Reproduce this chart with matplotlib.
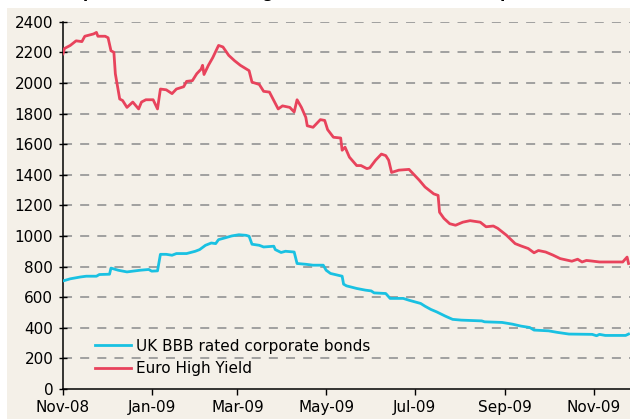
import matplotlib
matplotlib.use("Agg")
import matplotlib.pyplot as plt
import matplotlib.dates as mdates
from matplotlib.patches import Rectangle
import pandas as pd

# ---------------- data ----------------
hy_dates = ["2008-11-01", "2008-11-02", "2008-11-06", "2008-11-10", "2008-11-14", "2008-11-16",
            "2008-11-22", "2008-11-24", "2008-11-25", "2008-11-30", "2008-12-02", "2008-12-04",
            "2008-12-06", "2008-12-07", "2008-12-10", "2008-12-12", "2008-12-15", "2008-12-19",
            "2008-12-23", "2008-12-25", "2008-12-28", "2009-01-02", "2009-01-05", "2009-01-07",
            "2009-01-11", "2009-01-15", "2009-01-18", "2009-01-23", "2009-01-25", "2009-01-29",
            "2009-02-01", "2009-02-04", "2009-02-05", "2009-02-06", "2009-02-09", "2009-02-12",
            "2009-02-16", "2009-02-19", "2009-02-23", "2009-02-27", "2009-03-03", "2009-03-09",
            "2009-03-11", "2009-03-16", "2009-03-19", "2009-03-23", "2009-03-29", "2009-04-01",
            "2009-04-06", "2009-04-09", "2009-04-11", "2009-04-14", "2009-04-17", "2009-04-18",
            "2009-04-22", "2009-04-27", "2009-04-30", "2009-05-02", "2009-05-06", "2009-05-11",
            "2009-05-12", "2009-05-14", "2009-05-17", "2009-05-22", "2009-05-25", "2009-05-29",
            "2009-05-31", "2009-06-04", "2009-06-08", "2009-06-11", "2009-06-13", "2009-06-15",
            "2009-06-20", "2009-06-27", "2009-06-30", "2009-07-04", "2009-07-08", "2009-07-14",
            "2009-07-17", "2009-07-18", "2009-07-21", "2009-07-25", "2009-07-29", "2009-08-03",
            "2009-08-08", "2009-08-15", "2009-08-19", "2009-08-24", "2009-08-27", "2009-09-02",
            "2009-09-08", "2009-09-12", "2009-09-17", "2009-09-21", "2009-09-24", "2009-09-29",
            "2009-10-04", "2009-10-09", "2009-10-17", "2009-10-21", "2009-10-24", "2009-10-27",
            "2009-10-30", "2009-11-05", "2009-11-21", "2009-11-24", "2009-11-25"]
hy_values = [2190, 2225, 2245, 2275, 2270, 2305,
             2320, 2330, 2305, 2305, 2295, 2210,
             2200, 2060, 1895, 1885, 1840, 1875,
             1830, 1875, 1890, 1890, 1830, 1960,
             1955, 1930, 1960, 1975, 2010, 2015,
             2060, 2090, 2115, 2055, 2115, 2165,
             2245, 2235, 2180, 2145, 2115, 2080,
             2005, 1990, 1945, 1940, 1830, 1850,
             1840, 1810, 1890, 1840, 1775, 1720,
             1710, 1760, 1755, 1695, 1645, 1640,
             1560, 1580, 1515, 1460, 1460, 1440,
             1445, 1495, 1535, 1525, 1495, 1415,
             1430, 1435, 1405, 1365, 1320, 1275,
             1265, 1155, 1115, 1080, 1070, 1090,
             1100, 1090, 1060, 1065, 1050, 1005,
             950, 935, 918, 890, 905, 895,
             875, 852, 835, 848, 830, 840,
             837, 830, 830, 862, 820]

bbb_dates = ["2008-11-01", "2008-11-06", "2008-11-13", "2008-11-17", "2008-11-24", "2008-11-26",
             "2008-12-03", "2008-12-04", "2008-12-09", "2008-12-15", "2008-12-19", "2008-12-24",
             "2008-12-30", "2009-01-01", "2009-01-05", "2009-01-07", "2009-01-11", "2009-01-15",
             "2009-01-18", "2009-01-25", "2009-01-31", "2009-02-03", "2009-02-07", "2009-02-11",
             "2009-02-14", "2009-02-16", "2009-02-21", "2009-02-25", "2009-03-02", "2009-03-07",
             "2009-03-09", "2009-03-11", "2009-03-16", "2009-03-19", "2009-03-26", "2009-03-27",
             "2009-03-31", "2009-04-03", "2009-04-09", "2009-04-11", "2009-04-17", "2009-04-22",
             "2009-04-29", "2009-05-01", "2009-05-04", "2009-05-12", "2009-05-13", "2009-05-15",
             "2009-05-22", "2009-05-28", "2009-06-01", "2009-06-03", "2009-06-11", "2009-06-14",
             "2009-06-23", "2009-06-27", "2009-07-05", "2009-07-08", "2009-07-12", "2009-07-16",
             "2009-07-22", "2009-07-27", "2009-08-02", "2009-08-16", "2009-08-18", "2009-08-30",
             "2009-09-06", "2009-09-12", "2009-09-18", "2009-09-21", "2009-10-01", "2009-10-07",
             "2009-10-15", "2009-10-31", "2009-11-03", "2009-11-05", "2009-11-09", "2009-11-23",
             "2009-11-25"]
bbb_values = [706, 720, 732, 737, 737, 748,
              750, 790, 776, 765, 770, 776,
              781, 770, 772, 880, 880, 874,
              885, 885, 900, 911, 939, 954,
              950, 976, 989, 1000, 1008, 1004,
              998, 946, 939, 928, 933, 911,
              892, 900, 895, 820, 815, 809,
              809, 776, 755, 737, 685, 674,
              657, 646, 641, 628, 624, 592,
              592, 580, 559, 541, 520, 504,
              476, 455, 450, 445, 439, 435,
              424, 411, 402, 385, 380, 370,
              359, 357, 348, 357, 350, 350,
              359]

series_labels = ["UK BBB rated corporate bonds", "Euro High Yield"]
tick_dates = ["2008-11-01", "2009-01-01", "2009-03-01", "2009-05-01",
              "2009-07-01", "2009-09-01", "2009-11-01"]
y_ticks = list(range(0, 2401, 200))
title_text = "Spreads on the sterling and euro credit market (bps)"

# ---------------- style ----------------
BG = "#F4F0E8"
RED = "#E8435C"
CYAN = "#19C1E2"
GRID = "#9A9A9A"

fig = plt.figure(figsize=(6.30, 4.19), dpi=100, facecolor="white")
fig.patches.append(Rectangle((7 / 630, 0), 1 - 7 / 630, (419 - 8) / 419,
                             transform=fig.transFigure, facecolor=BG,
                             edgecolor="none", zorder=-10))
fig.text(72 / 630, 1.004, title_text, fontsize=11, fontweight="bold",
         va="baseline", ha="left", color="black")

ax = fig.add_axes([63 / 630, 30 / 419, 1 - 63 / 630, (389 - 21.7) / 419])
ax.set_facecolor("none")
ax.set_zorder(1)

hy_x = pd.to_datetime(hy_dates)
bbb_x = pd.to_datetime(bbb_dates)

ax.plot(bbb_x, bbb_values, color=CYAN, lw=2.0, label=series_labels[0],
        solid_joinstyle="round", zorder=3)
ax.plot(hy_x, hy_values, color=RED, lw=2.0, label=series_labels[1],
        solid_joinstyle="round", zorder=3)

ax.set_ylim(0, 2400)
ax.set_xlim(pd.Timestamp("2008-11-01"), pd.Timestamp("2009-11-26"))
ax.set_yticks(y_ticks)
ax.set_xticks(pd.to_datetime(tick_dates))
ax.xaxis.set_major_formatter(mdates.DateFormatter("%b-%y"))

for v in y_ticks[1:]:
    ax.axhline(v, color=GRID, lw=1.3, ls=(0, (5, 4.5)), zorder=1)

for s in ["top", "right"]:
    ax.spines[s].set_visible(False)
for s in ["left", "bottom"]:
    ax.spines[s].set_color("black")
    ax.spines[s].set_linewidth(1.1)

ax.tick_params(axis="y", direction="inout", length=6, width=1, labelsize=11, pad=4)
ax.tick_params(axis="x", direction="out", length=4, width=1, labelsize=11, pad=4)

leg = ax.legend(loc="lower left", bbox_to_anchor=((95 - 63) / 567, 0.035),
                frameon=False, fontsize=11, handlelength=2.35, handletextpad=0.35,
                labelspacing=0.5, borderpad=0, borderaxespad=0)

fig.savefig("out.png", dpi=100, facecolor=fig.get_facecolor())
